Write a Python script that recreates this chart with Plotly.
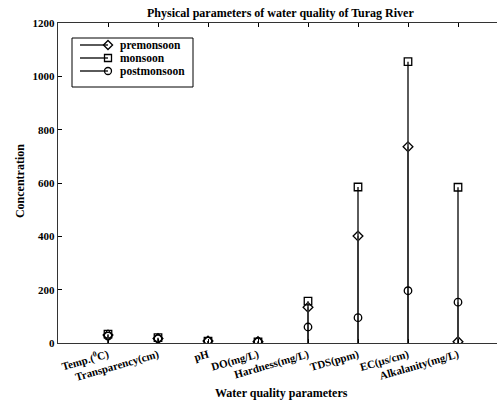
import plotly.graph_objects as go

categories = ["Temp.(<sup>0</sup>C)", "Transparency(cm)", "pH", "DO(mg/L)",
              "Hardness(mg/L)", "TDS(ppm)", "EC(µs/cm)", "Alkalanity(mg/L)"]
positions = [1, 2, 3, 4, 5, 6, 7, 8]
premonsoon = [30, 17, 7.5, 5, 134, 401, 736, 5]
monsoon = [33, 20, 7, 4.5, 157, 585, 1055, 584]
postmonsoon = [26, 16, 6.8, 5.5, 60, 95, 196, 153]
y_ticks = [0, 200, 400, 600, 800, 1000, 1200]

series = [("premonsoon", premonsoon, "diamond-open"),
          ("monsoon", monsoon, "square-open"),
          ("postmonsoon", postmonsoon, "circle-open")]

FONT = "Liberation Serif"
STEM = "#333"
fig = go.Figure()
for name, vals, sym in series:
    fig.add_trace(go.Scatter(
        x=positions, y=vals, mode="markers", showlegend=False, name=name,
        marker=dict(symbol=sym, size=7.5, color="black", line=dict(width=1.3, color="black")),
        error_y=dict(type="data", symmetric=False, array=[0] * len(vals),
                     arrayminus=vals, width=0, thickness=1.6, color=STEM),
    ))

# custom legend (matlab style) drawn in a pixel-like overlay frame
leg_rows = [45, 58, 71]
for (name, vals, sym), yy in zip(series, leg_rows):
    fig.add_trace(go.Scatter(
        x=[80, 108], y=[yy, yy], xaxis="x2", yaxis="y2", mode="lines",
        line=dict(color="black", width=1.3), showlegend=False, hoverinfo="skip"))
    fig.add_trace(go.Scatter(
        x=[108], y=[yy], xaxis="x2", yaxis="y2", mode="markers", showlegend=False,
        marker=dict(symbol=sym, size=7, color="black", line=dict(width=1.3, color="black")),
        hoverinfo="skip"))
    fig.add_annotation(x=118, y=yy, xref="x2", yref="y2", text="<b>" + name + "</b>",
                       showarrow=False, xanchor="left", yanchor="middle",
                       font=dict(family=FONT, size=11.5, color="black"))
fig.add_shape(type="rect", x0=72, x1=193, y0=38, y1=87, xref="x2", yref="y2",
              line=dict(color="black", width=1), fillcolor="rgba(0,0,0,0)", layer="below")

fig.update_layout(
    width=497, height=403,
    margin=dict(l=58, r=0, t=23, b=60),
    paper_bgcolor="white", plot_bgcolor="white",
    font=dict(family=FONT, color="black", size=11),
    showlegend=False,
    xaxis2=dict(overlaying="x", range=[58, 497], visible=False, fixedrange=True),
    yaxis2=dict(overlaying="y", range=[343, 23], visible=False, fixedrange=True),
)
fig.add_annotation(text="<b>Physical parameters of water quality of Turag River</b>",
                   xref="paper", yref="paper", x=0.506, y=1.0,
                   showarrow=False, xanchor="center", yanchor="bottom", yshift=1,
                   font=dict(family=FONT, size=12, color="black"))
fig.add_annotation(text="<b>Water quality parameters</b>", xref="paper", yref="paper",
                   x=0.508, y=-0.156, showarrow=False, xanchor="center", yanchor="middle",
                   font=dict(family=FONT, size=12, color="black"))
fig.add_annotation(text="<b>Concentration</b>", xref="paper", yref="paper",
                   x=-0.0866, y=0.506, showarrow=False, textangle=-90,
                   xanchor="center", yanchor="middle",
                   font=dict(family=FONT, size=12, color="black"))
fig.update_layout(xaxis=dict(
    range=[0, 8.78], tickmode="array", tickvals=positions,
    ticktext=["<b>" + c + "</b>" for c in categories],
    tickangle=-16, ticks="inside", ticklen=4, tickcolor="black",
    showline=True, linecolor="#333", linewidth=1.4, mirror="ticks",
    showgrid=False, zeroline=False, automargin=False,
    tickfont=dict(family=FONT, size=11, color="black"),
))
fig.update_layout(yaxis=dict(
    range=[0, 1200], tickmode="array", tickvals=y_ticks,
    ticktext=["<b>%d</b>" % v for v in y_ticks],
    ticks="inside", ticklen=4, tickcolor="black",
    showline=True, linecolor="#333", linewidth=1.4, mirror=False,
    showgrid=False, zeroline=False, automargin=False,
    tickfont=dict(family=FONT, size=11, color="black"),
))
fig.write_html("out.html", config={"displayModeBar": False},
               post_script="document.body.style.margin='0';document.body.style.overflow='hidden';")
